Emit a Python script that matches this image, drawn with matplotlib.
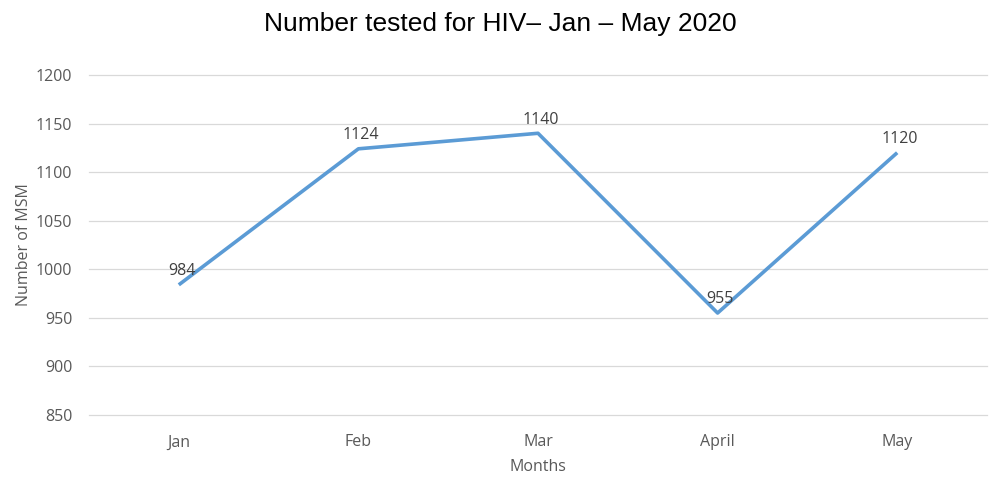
import matplotlib
matplotlib.use("Agg")
import matplotlib.pyplot as plt

months = ["Jan", "Feb", "Mar", "April", "May"]
tested = [984, 1124, 1140, 955, 1120]
yticks = [850, 900, 950, 1000, 1050, 1100, 1150, 1200]

plt.rcParams['font.family'] = ['Open Sans', 'DejaVu Sans']

fig = plt.figure(figsize=(10, 4.9), dpi=100)
ax = fig.add_axes([0.089, 0.153, 0.898, 0.694])

x = list(range(len(months)))
ax.plot(x, tested, color="#5B9BD5", linewidth=2.6, solid_capstyle="butt")
for xi, v in zip(x, tested):
    ax.annotate(str(v), (xi, v), xytext=(2, 4), textcoords="offset points",
                ha="center", va="bottom", fontsize=11.5, color="#404040")

ax.set_xlim(-0.5, len(months) - 0.5)
ax.set_ylim(850, 1200)
ax.set_yticks(yticks)
ax.set_xticks(x)
ax.set_xticklabels(months)
ax.tick_params(axis="both", length=0, labelsize=11.5, labelcolor="#595959")
ax.tick_params(axis="y", pad=12)
ax.tick_params(axis="x", pad=14)
ax.grid(axis="y", color="#D9D9D9", linewidth=0.9)
for gl in ax.get_ygridlines():
    gl.set_clip_on(False)
ax.set_axisbelow(True)
for s in ax.spines.values():
    s.set_visible(False)

ax.set_xlabel("Months", fontsize=11.5, color="#595959", labelpad=6)
ax.set_ylabel("Number of MSM", fontsize=11.5, color="#595959", labelpad=3)
fig.suptitle("Number tested for HIV– Jan – May 2020", y=0.975, va="top",
             fontsize=19, family=["Liberation Sans", "DejaVu Sans"], color="black")

fig.savefig("out.png", dpi=100)
